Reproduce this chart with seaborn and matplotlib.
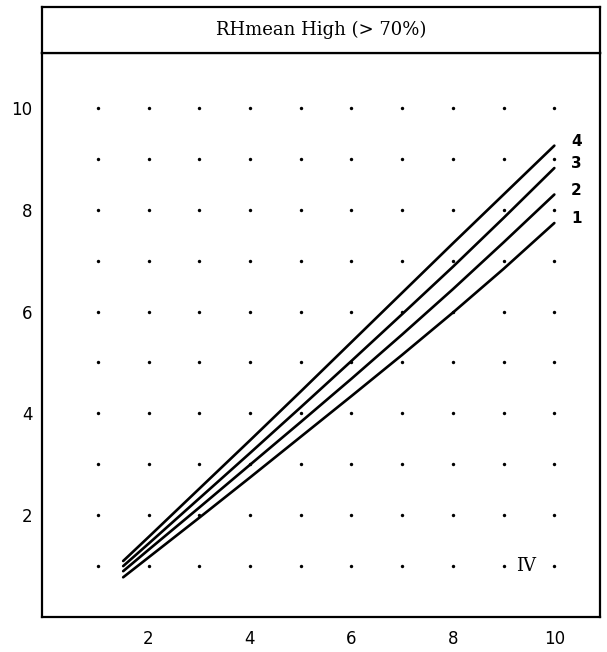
import numpy as np
import pandas as pd
import matplotlib
matplotlib.use("Agg")
import matplotlib.pyplot as plt
import seaborn as sns

# ---- data ----
x_vals = [1.5, 2, 3, 4, 5, 6, 7, 8, 9, 10]
curve_1 = [0.78, 1.17, 1.95, 2.74, 3.54, 4.34, 5.15, 5.98, 6.84, 7.74]
curve_2 = [0.90, 1.32, 2.15, 2.99, 3.83, 4.68, 5.55, 6.44, 7.36, 8.30]
curve_3 = [1.00, 1.44, 2.33, 3.22, 4.12, 5.03, 5.95, 6.88, 7.84, 8.82]
curve_4 = [1.10, 1.57, 2.52, 3.47, 4.43, 5.40, 6.37, 7.34, 8.30, 9.26]
curve_labels = ["1", "2", "3", "4"]
x_ticks = [2, 4, 6, 8, 10]
y_ticks = [2, 4, 6, 8, 10]
minor_ticks = [1, 2, 3, 4, 5, 6, 7, 8, 9, 10]
title = "RHmean High (> 70%)"
panel_label = "IV"

curves = [curve_1, curve_2, curve_3, curve_4]
df = pd.DataFrame({
    "x": np.concatenate([x_vals] * 4),
    "y": np.concatenate(curves),
    "curve": np.repeat(curve_labels, len(x_vals)),
})

sns.set_theme(style="white")
plt.rcParams["font.family"] = ["DejaVu Sans"]

W, H = 607, 652
fig = plt.figure(figsize=(W / 100, H / 100), dpi=100)
fig.patch.set_facecolor("white")

left, right = 42 / W, 600 / W
bottom, top = (H - 617) / H, (H - 53) / H
ax = fig.add_axes([left, bottom, right - left, top - bottom])

# dotted grid (dots at every integer position)
gx, gy = np.meshgrid(minor_ticks, minor_ticks)
ax.scatter(gx.ravel(), gy.ravel(), s=6, color="black", linewidths=0, zorder=1)

sns.lineplot(data=df, x="x", y="y", hue="curve", palette=["black"] * 4,
             legend=False, linewidth=1.9, ax=ax, zorder=3)

for lab, c in zip(curve_labels, curves):
    ax.text(10.33, c[-1] + 0.08, lab, fontsize=11, fontweight="bold",
            ha="left", va="center", color="black")

ax.text(9.45, 1.0, panel_label, family="DejaVu Serif", fontsize=13,
        ha="center", va="center", color="black")

ax.set_xlim(-0.1, 10.9)
ax.set_ylim(0, 11.08)
ax.set_xticks(x_ticks)
ax.set_xticklabels([str(t) for t in x_ticks])
ax.set_yticks(y_ticks)
ax.set_yticklabels([str(t) for t in y_ticks])
ax.set_xticks(minor_ticks, minor=True)
ax.set_yticks(minor_ticks, minor=True)
ax.tick_params(which="both", direction="in", length=7, width=1.3, color="black")
ax.tick_params(axis="x", which="major", pad=9, labelsize=12, labelcolor="black")
ax.tick_params(axis="y", which="major", pad=7, labelsize=12, labelcolor="black")
ax.set_xlabel("")
ax.set_ylabel("")
for s in ax.spines.values():
    s.set_visible(True)
    s.set_color("black")
    s.set_linewidth(1.6)

# header box with the title
hax = fig.add_axes([left, top, right - left, (53 - 7) / H])
hax.set_xticks([])
hax.set_yticks([])
for s in hax.spines.values():
    s.set_visible(True)
    s.set_color("black")
    s.set_linewidth(1.6)
hax.text(0.5, 0.5, title, family="DejaVu Serif", fontsize=13,
         ha="center", va="center", transform=hax.transAxes, color="black")

fig.savefig("out.png", dpi=100, facecolor="white")
